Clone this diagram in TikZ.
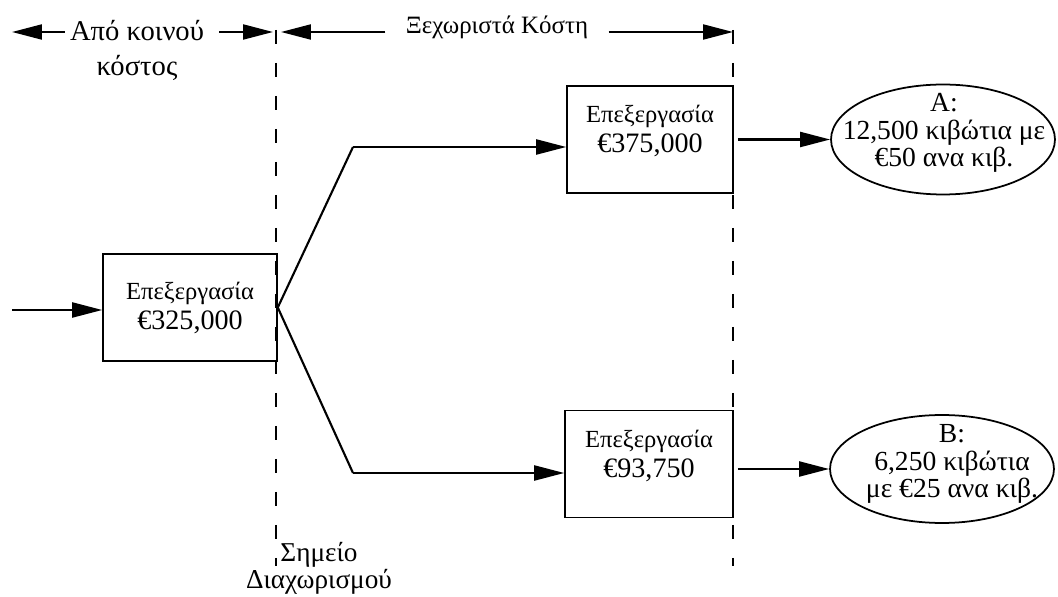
\documentclass[tikz,border=0pt]{standalone}
\usepackage{fontspec}
\setmainfont{Liberation Serif}
\usetikzlibrary{shapes,arrows.meta,positioning}

\newcommand{\proclabel}[2]{{\fontsize{14}{17}\selectfont #1}\\#2}

\begin{document}
\begin{tikzpicture}[x=0.02cm, y=-0.02cm]
    \tikzstyle{box} = [rectangle, draw, line width=0.9pt, minimum height=2.14cm]
    \tikzstyle{boxtext} = [align=center, inner sep=0pt, font=\fontsize{16}{17}\selectfont]
    \tikzstyle{product} = [ellipse, draw, line width=1pt, minimum width=4.48cm, minimum height=2.2cm]
    \tikzstyle{prodtext} = [align=center, inner sep=0pt, font=\fontsize{15.7}{15.5}\selectfont]
    \tikzstyle{toplabel} = [inner sep=0.1cm, font=\fontsize{16.3}{19}\selectfont]
    \tikzstyle{arr} = [-{Triangle[length=0.6cm, width=0.3cm]}, line width=1.2pt]
    \tikzstyle{split} = [line width=1pt, dash pattern=on 0.28cm off 0.38cm]
    \useasboundingbox (0,0) rectangle (1058,597);

    % processing boxes
    \node (proc) [box, minimum width=3.48cm] at (190,307.5) {};
    \node (procA) [box, minimum width=3.32cm] at (650,139.5) {};
    \node (procB) [box, minimum width=3.36cm] at (649,464) {};
    \node (procTxt) [boxtext] at (190,308) {\proclabel{Επεξεργασία}{€325,000}};
    \node (procATxt) [boxtext] at (650,131) {\proclabel{Επεξεργασία}{€375,000}};
    \node (procBTxt) [boxtext] at (649,456) {\proclabel{Επεξεργασία}{€93,750}};

    % products
    \node (outA) [product] at (943,139.5) {};
    \node (outB) [product, minimum height=2.16cm] at (942,469) {};
    \node (outATxt) [prodtext] at (944,133) {Α:\\12,500 κιβώτια με\\€50 ανα κιβ.};
    \node (outBTxt) [prodtext] at (952,464) {Β:\\6,250 κιβώτια\\με €25 ανα κιβ.};

    % split-off lines
    \coordinate (splitTop) at (276,30);
    \coordinate (splitBot) at (276,566);
    \coordinate (sepTop) at (733,30);
    \coordinate (sepBot) at (733,566);
    \draw [split] (splitTop) -- (splitBot);
    \draw [split] (sepTop) -- (sepBot);

    % top labels
    \node (joint) [toplabel] at (137,31) {Από κοινού};
    \node (jointLow) [toplabel] at (137,68) {κόστος};
    \node (separate) [toplabel, inner xsep=0.4cm, font=\fontsize{14.2}{16}\selectfont] at (497,27) {Ξεχωριστά Κόστη};
    \node (splitTxt) [align=center, font=\fontsize{15.5}{15.5}\selectfont] at (319,568) {Σημείο\\Διαχωρισμού};

    \coordinate (leftEnd) at (12,32);
    \coordinate (jointEnd) at (273,32);
    \coordinate (sepStart) at (281,32);
    \coordinate (sepEnd) at (733,32);
    \draw [arr] (joint.west |- leftEnd) -- (leftEnd);
    \draw [arr] ([xshift=0.2cm]joint.east |- jointEnd) -- (jointEnd);
    \draw [arr] (separate.west |- sepStart) -- (sepStart);
    \draw [arr] (separate.east |- sepEnd) -- (sepEnd);

    % flow
    \coordinate (input) at (12,310);
    \coordinate (kneeA) at (353,147);
    \coordinate (kneeB) at (353,473);
    \draw [arr] (input) -- (input -| proc.west);
    \draw [line width=1.2pt] (proc.east) -- (kneeA);
    \draw [line width=1.2pt] (proc.east) -- (kneeB);
    \draw [arr] (kneeA) -- (kneeA -| procA.west);
    \draw [arr] (kneeB) -- (kneeB -| procB.west);
    \draw [arr] ([xshift=0.08cm]procA.east |- outA.west) -- (outA.west);
    \draw [arr] ([xshift=0.08cm]procB.east |- outB.west) -- (outB.west);

\end{tikzpicture}
\end{document}
